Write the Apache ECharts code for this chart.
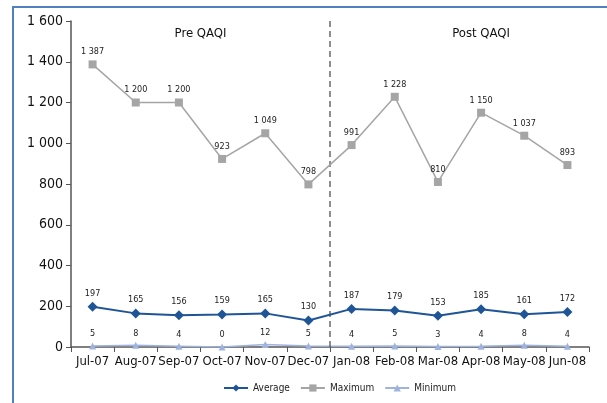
<!DOCTYPE html>
<html><head><meta charset="utf-8">
<script src="https://cdn.jsdelivr.net/npm/echarts@6/dist/echarts.min.js"></script>
<style>html,body{margin:0;padding:0;background:#fff}#c{width:607px;height:403px}</style>
</head><body><div id="c"></div>
<script>
var categories = ['Jul-07','Aug-07','Sep-07','Oct-07','Nov-07','Dec-07','Jan-08','Feb-08','Mar-08','Apr-08','May-08','Jun-08'];
var averageVals = [197,165,156,159,165,130,187,179,153,185,161,172];
var maximumVals = [1387,1200,1200,923,1049,798,991,1228,810,1150,1037,893];
var minimumVals = [5,8,4,0,12,5,4,5,3,4,8,4];
var yTicks = [0,200,400,600,800,1000,1200,1400,1600];
var periodLabels = ['Pre QAQI','Post QAQI'];
var dividerPos = [6];

var FONT = '"DejaVu Sans Condensed","Liberation Sans Narrow","Liberation Sans",Arial,sans-serif';
function fmt(v){ return String(v).replace(/\B(?=(\d{3})+(?!\d))/g,' '); }
var chart = echarts.init(document.getElementById('c'));
var lbl = {show:true, position:'top', distance:4, fontSize:9, color:'#222', fontFamily:FONT, formatter:function(p){return fmt(p.value);}};
chart.setOption({
  animation:false,
  textStyle:{fontFamily:FONT},
  graphic:[
    {type:'rect', shape:{x:13,y:7,width:700,height:500}, style:{fill:'none', stroke:'#4f81bd', lineWidth:2}, silent:true}
  ],
  grid:{left:71,right:18,top:21,bottom:56},
  legend:{top:378,left:218,itemWidth:24,itemHeight:9,itemGap:10,
    textStyle:{fontSize:10,color:'#222',fontFamily:FONT},
    data:['Average','Maximum','Minimum']},
  xAxis:[{type:'category',data:categories,boundaryGap:true,
    axisLine:{lineStyle:{color:'#555',width:1.5}},
    axisTick:{show:true,length:5,lineStyle:{color:'#555'}},
    axisLabel:{fontSize:13,color:'#111',margin:8,interval:0,fontFamily:FONT}},
   {type:'value',min:0,max:12,show:false}],
  yAxis:{type:'value',min:yTicks[0],max:yTicks[yTicks.length-1],interval:200,
    axisLine:{show:true,lineStyle:{color:'#555',width:1.5}},
    axisTick:{show:true,length:5,lineStyle:{color:'#555'}},
    splitLine:{show:false},
    axisLabel:{fontSize:14,color:'#111',margin:8,fontFamily:FONT,formatter:function(v){return fmt(v);}}},
  series:[
    {name:'Average',type:'line',data:averageVals,symbol:'diamond',symbolSize:10,
     itemStyle:{color:'#1f5597'},lineStyle:{color:'#1f5597',width:2},label:lbl,z:5},
    {name:'Maximum',type:'line',data:maximumVals,symbol:'rect',symbolSize:8,
     itemStyle:{color:'#a5a5a5'},lineStyle:{color:'#a5a5a5',width:1.5},label:lbl,z:4},
    {name:'Minimum',type:'line',data:minimumVals,symbol:'triangle',symbolSize:7,
     itemStyle:{color:'#9fb3df'},lineStyle:{color:'#9fb3df',width:1.5},label:lbl,z:3},
    {name:'divider',type:'line',xAxisIndex:1,
     data:[[dividerPos[0],yTicks[0]],[dividerPos[0],yTicks[yTicks.length-1]]],
     symbol:'none',lineStyle:{color:'#444',type:[6,4],width:1.2},silent:true,
     markPoint:{silent:true,symbol:'circle',symbolSize:0,
       label:{show:true,position:'inside',fontSize:13,color:'#111',fontFamily:FONT,formatter:function(p){return p.name;}},
       data:[{name:periodLabels[0],coord:[3,1540]},{name:periodLabels[1],coord:[9.5,1540]}]}}
  ]
});
</script></body></html>
